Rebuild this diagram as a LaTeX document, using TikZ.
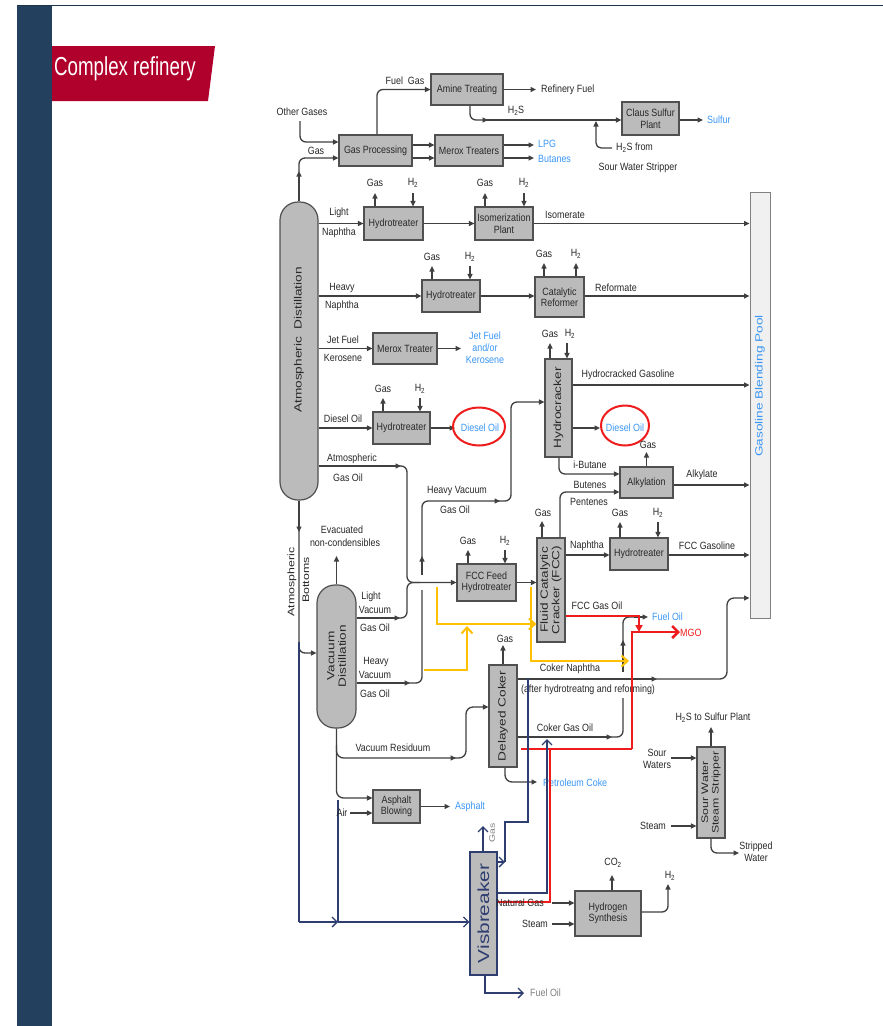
\documentclass[tikz,border=0pt]{standalone}
\usepackage{fontspec}
\setmainfont{Liberation Sans}
\newfontfamily\lblfont{Liberation Sans}[FakeStretch=0.85]
\newfontfamily\rotfont{Liberation Sans}[FakeStretch=1.3]
\newfontfamily\ttlfont{Liberation Sans}[FakeStretch=0.72]
\usetikzlibrary{arrows.meta,calc}
\definecolor{slatebar}{HTML}{23415F}
\definecolor{banner}{HTML}{B0002C}
\definecolor{lncol}{HTML}{404040}
\definecolor{boxfill}{HTML}{BBBBBB}
\definecolor{boxline}{HTML}{505050}
\definecolor{txt}{HTML}{282828}
\definecolor{bluetxt}{HTML}{3A96F5}
\definecolor{navy}{HTML}{2E3E70}
\definecolor{amber}{HTML}{FFC000}
\definecolor{redln}{HTML}{EE1C1C}
\tikzset{
 pipe/.style={draw=lncol, line width=1.3pt},
 flow/.style={pipe, -{Triangle[length=5.5pt,width=5pt]}},
 unit/.style={draw=boxline, fill=boxfill, line width=1.2pt, font=\lblfont\fontsize{10.5}{11.5}\selectfont, text=txt, align=center, inner sep=1pt},
 lb/.style={font=\lblfont\fontsize{10.5}{12}\selectfont, text=txt, inner sep=0pt, align=center},
 blb/.style={lb, text=bluetxt},
 rlb/.style={font=\rotfont\fontsize{10.5}{11.5}\selectfont, text=txt, inner sep=0pt, align=center},
 nv/.style={draw=navy, line width=1.3pt},
 nvflow/.style={nv, -{Straight Barb[length=5pt,width=10pt]}},
 yl/.style={draw=amber, line width=2pt},
 ylflow/.style={yl, -{Straight Barb[length=6pt,width=11pt]}},
 rd/.style={draw=redln, line width=2.5pt},
 col/.style={draw=boxline, fill=boxfill, line width=1.2pt, rounded corners=18pt, inner sep=0pt},
}
\begin{document}
\begin{tikzpicture}[x=1pt,y=-1pt]
\useasboundingbox (0,0) rectangle (883,1026);
\fill[white] (0,0) rectangle (883,1026);
\fill[slatebar] (17,5) rectangle (52,1026);
\draw[slatebar!80!black, line width=1pt] (17,5.5) -- (883,5.5);
\fill[banner] (52,46) -- (215,46) -- (208,101) -- (52,101) -- cycle;
\node[anchor=west, text=white, font=\ttlfont\fontsize{26}{28}\selectfont, inner sep=0pt] (title) at (54,69) {Complex refinery};

% ---------- columns ----------
\node[col, minimum width=38pt, minimum height=298pt] (atm) at (299,351) {};
\node[rlb, rotate=90] (atml) at (299,340) {Atmospheric\ \ Distillation};
\node[col, minimum width=39pt, minimum height=143pt] (vac) at (336.5,656.5) {};
\node[rlb, rotate=90] (vacl) at (336.5,656) {Vacuum\\Distillation};

% ---------- units ----------
\node[unit, minimum width=73pt, minimum height=31pt] (gp) at (375.5,150.5) {Gas Processing};
\node[unit, minimum width=72pt, minimum height=31pt] (amine) at (467,89.5) {Amine Treating};
\node[unit, minimum width=68pt, minimum height=31pt] (merox) at (469,150.5) {Merox Treaters};
\node[unit, minimum width=57pt, minimum height=33pt] (claus) at (650.5,118.5) {Claus Sulfur\\Plant};
\node[unit, minimum width=59pt, minimum height=33pt] (ht1) at (393.5,223.5) {Hydrotreater};
\node[unit, minimum width=58pt, minimum height=33pt] (iso) at (504,223.5) {Isomerization\\Plant};
\node[unit, minimum width=58pt, minimum height=32pt] (ht2) at (451,296) {Hydrotreater};
\node[unit, minimum width=49pt, minimum height=40pt] (cr) at (559.5,297) {Catalytic\\Reformer};
\node[unit, minimum width=64pt, minimum height=31pt] (mt) at (405,348.5) {Merox Treater};
\node[unit, minimum width=57pt, minimum height=32pt] (ht3) at (401.5,428) {Hydrotreater};
\node[unit, minimum width=27pt, minimum height=98pt] (hc) at (558.5,408) {};
\node[unit, minimum width=53pt, minimum height=31pt] (alk) at (646.5,482.5) {Alkylation};
\node[unit, minimum width=28pt, minimum height=104pt] (fcc) at (551,590) {};
\node[unit, minimum width=58pt, minimum height=32pt] (ht4) at (639,554) {Hydrotreater};
\node[unit, minimum width=59pt, minimum height=37pt] (ffh) at (486.5,582.5) {FCC Feed\\Hydrotreater};
\node[unit, minimum width=28pt, minimum height=102pt] (coker) at (503,716) {};
\node[unit, minimum width=47pt, minimum height=33pt] (ab) at (396.5,806.5) {Asphalt\\Blowing};
\node[unit, draw=navy, minimum width=27pt, minimum height=123pt] (vis) at (483.5,913.5) {};
\node[unit, minimum width=66pt, minimum height=45pt] (hs) at (608,913.5) {Hydrogen\\Synthesis};
\node[unit, minimum width=28pt, minimum height=91pt] (sws) at (711,792.5) {};
\node[draw=gray, fill=gray!12, line width=1pt, minimum width=20pt, minimum height=426pt, inner sep=0pt] (gbp) at (760,405) {};

\node[rlb, rotate=90] (hcl) at (hc) {Hydrocracker};
\node[rlb, rotate=90] (fccl) at (fcc) {Fluid Catalytic\\Cracker (FCC)};
\node[rlb, rotate=90] (cokl) at (coker) {Delayed Coker};
\node[rlb, rotate=90, font=\rotfont\fontsize{16}{18}\selectfont, text=navy] (visl) at (vis) {Visbreaker};
\node[rlb, rotate=90, font=\rotfont\fontsize{9.5}{10.5}\selectfont] (swsl) at (sws) {Sour Water\\Steam Stripper};
\node[rlb, rotate=90, text=bluetxt] (gbpl) at (760,386) {Gasoline Blending Pool};

% ---------- top section ----------
\draw[flow] (atm.north) -- (299,171);
\draw[flow, rounded corners=6pt] (299,172) |- (gp.west |- 0,158);
\node[lb] (tgas0) at (316,151) {Gas};
\node[lb] (toth) at (302,112) {Other Gases};
\draw[flow, rounded corners=6pt] (300,121) |- (gp.west |- 0,142);
\draw[flow, rounded corners=6pt] (gp.north -| 377,0) |- (amine.west);
\node[lb] (tfg) at (405,81) {Fuel\ \ Gas};
\draw[flow] (amine.east) -- (536,89.5);
\node[lb, anchor=west] (trf) at (541,90) {Refinery Fuel};
\draw[flow, rounded corners=6pt] (amine.south -| 470,0) |- (488,120);
\draw[flow] (486,120) -- (claus.west |- 0,120);
\node[lb] (th2s) at (516,111) {H\textsubscript{2}S};
\draw[flow] (claus.east |- 0,120) -- (703,120);
\node[blb, anchor=west] (tsul) at (707,120) {Sulfur};
\draw[flow, rounded corners=5pt] (612,148) -| (596,121);
\node[lb, anchor=west] (th2sf) at (616,148) {H\textsubscript{2}S from};
\node[lb] (tsws) at (638,168) {Sour Water Stripper};
\draw[flow] (gp.east |- 0,145) -- (merox.west |- 0,145);
\draw[flow] (gp.east |- 0,158) -- (merox.west |- 0,158);
\draw[flow] (merox.east |- 0,145) -- (534,145);
\draw[flow] (merox.east |- 0,158) -- (534,158);
\node[blb, anchor=west] (tlpg) at (538,144) {LPG};
\node[blb, anchor=west] (tbut) at (538,159) {Butanes};

% ---------- light naphtha ----------
\draw[flow] (atm.east |- ht1.west) -- (ht1.west);
\node[lb] (tln1) at (339,213) {Light};
\node[lb] (tln2) at (339,233) {Naphtha};
\draw[flow] (ht1.north -| 375,0) -- (375,193); \node[lb] (g1) at (375,183) {Gas};
\draw[flow] (413,193) -- (ht1.north -| 413,0); \node[lb] (h1) at (413,183) {H\textsubscript{2}};
\draw[flow] (ht1.east) -- (iso.west);
\draw[flow] (iso.north -| 485,0) -- (485,193); \node[lb] (g2) at (485,183) {Gas};
\draw[flow] (524,193) -- (iso.north -| 524,0); \node[lb] (h2) at (524,183) {H\textsubscript{2}};
\draw[flow] (iso.east) -- (gbp.west |- iso.east);
\node[lb] (tisom) at (565,215) {Isomerate};

% ---------- heavy naphtha ----------
\draw[flow] (atm.east |- ht2.west) -- (ht2.west);
\node[lb] (thn1) at (342,288) {Heavy};
\node[lb] (thn2) at (342,306) {Naphtha};
\draw[flow] (ht2.north -| 432,0) -- (432,266); \node[lb] (g3) at (432,257) {Gas};
\draw[flow] (470,266) -- (ht2.north -| 470,0); \node[lb] (h3) at (470,257) {H\textsubscript{2}};
\draw[flow] (ht2.east) -- (cr.west |- ht2.east);
\draw[flow] (cr.north -| 544,0) -- (544,263); \node[lb] (g4) at (544,254) {Gas};
\draw[flow] (cr.north -| 576,0) -- (576,263); \node[lb] (h4) at (576,254) {H\textsubscript{2}};
\draw[flow] (cr.east |- ht2.east) -- (gbp.west |- ht2.east);
\node[lb] (tref) at (616,288) {Reformate};

% ---------- jet fuel ----------
\draw[flow] (atm.east |- mt.west) -- (mt.west);
\node[lb] (tjf1) at (343,340) {Jet Fuel};
\node[lb] (tjf2) at (343,358) {Kerosene};
\draw[flow] (mt.east) -- (461,348.5);
\node[blb] (tjf3) at (485,348) {Jet Fuel\\and/or\\Kerosene};

% ---------- diesel ----------
\draw[flow] (atm.east |- ht3.west) -- (ht3.west);
\node[lb] (tdo) at (343,419) {Diesel Oil};
\draw[flow] (ht3.north -| 383,0) -- (383,398); \node[lb] (g5) at (383,389) {Gas};
\draw[flow] (420,398) -- (ht3.north -| 420,0); \node[lb] (h5) at (420,389) {H\textsubscript{2}};
\draw[flow] (ht3.east) -- (455,428);
\node[blb] (tdo2) at (480,428) {Diesel Oil};
\draw[redln, line width=2pt] (479,426.5) ellipse [x radius=26pt, y radius=19pt];

% ---------- atmospheric gas oil / vacuum gas oils ----------
\draw[flow] (atm.east |- 0,466) -- (401,466);
\draw[flow, rounded corners=6pt] (399,466) -| (407,582.5) -- (ffh.west);
\node[lb] (tago1) at (352,459) {Atmospheric};
\node[lb] (tago2) at (348,478) {Gas Oil};
\draw[flow] (vac.east |- 0,618) -- (400,618);
\draw[pipe, rounded corners=6pt] (398,618) -| (407,582.5) -- (420,582.5);
\node[lb] (tlv1) at (371,597) {Light};
\node[lb] (tlv2) at (375,610) {Vacuum};
\node[lb] (tlv3) at (375,628) {Gas Oil};
\draw[flow] (vac.east |- 0,683) -- (410,683);
\draw[pipe, rounded corners=6pt] (408,683) -| (422,590);
\draw[flow] (422,575) -- (422,556);
\draw[flow, rounded corners=6pt] (422,558) |- (500,501);
\draw[flow, rounded corners=6pt] (498,501) -| (511,402) -- (hc.west |- 0,402);
\node[lb] (thv1) at (457,491) {Heavy Vacuum};
\node[lb] (thv2) at (455,510) {Gas Oil};
\node[lb] (thvv1) at (376,662) {Heavy};
\node[lb] (thvv2) at (375,675) {Vacuum};
\node[lb] (thvv3) at (375,694) {Gas Oil};
\draw[flow] (vac.north) -- (336.5,556);
\node[lb] (tev1) at (342,530) {Evacuated};
\node[lb] (tev2) at (345,543) {non-condensibles};

% ---------- atmospheric bottoms ----------
\draw[flow] (atm.south) -- (299,532);
\draw[flow, rounded corners=6pt] (299,530) |- (vac.west |- 0,653);
\node[rlb, rotate=90, font=\rotfont\fontsize{9.5}{10.5}\selectfont] (tab1) at (292,582) {Atmospheric};
\node[rlb, rotate=90, font=\rotfont\fontsize{9.5}{10.5}\selectfont] (tab2) at (306,580) {Bottoms};
\draw[nv] (299,642) -- (299,922);
\draw[nvflow] (299,922) -- (338,922);
\draw[nv] (338,800) -- (338,922);
\draw[nvflow] (338,922) -- (vis.west |- 0,922);

% ---------- vacuum residuum ----------
\draw[flow, rounded corners=7pt] (vac.south) |- (ab.west |- 0,798);
\draw[flow, rounded corners=7pt] (336.5,745) |- (456,758);
\draw[flow, rounded corners=7pt] (454,758) -| (466,707) -- (coker.west |- 0,707);
\node[lb] (tvr) at (393,748) {Vacuum Residuum};
\node[lb] (tair) at (342,813) {Air};
\draw[flow] (350,813) -- (ab.west |- 0,813);
\draw[flow] (ab.east) -- (450,806.5);
\node[blb, anchor=west] (tasp) at (455,806.5) {Asphalt};

% ---------- coker ----------
\draw[flow] (coker.north) -- (503,645);
\node[lb] (g6) at (505,639) {Gas};
\draw[flow] (coker.east |- 0,679) -- (657,679);
\draw[flow, rounded corners=7pt] (655,679) -| (727,598) -- (gbp.west |- 0,598);
\node[lb] (tcn) at (570,669) {Coker Naphtha};
\node[lb] (tcn2) at (588,690) {(after hydrotreatng and reforming)};
\draw[flow] (coker.east |- 0,737) -- (612,737);
\draw[pipe, rounded corners=6pt] (610,737) -| (623,698);
\draw[flow] (623,672) -- (623,640);
\draw[pipe, rounded corners=6pt] (623,642) |- (634,617);
\node[lb] (tcgo) at (565,728) {Coker Gas Oil};
\draw[flow, rounded corners=7pt] (coker.south -| 505,0) |- (537,782);
\node[blb, anchor=west] (tpc) at (543,783) {Petroleum Coke};

% ---------- FCC gas oil, MGO ----------
\draw[flow] (634,617) -- (648,617);
\node[blb, anchor=west] (tfo) at (652,617) {Fuel Oil};
\draw[rd] (fcc.east |- 0,616) -- (640,616);
\draw[rd, -{Triangle[length=7pt,width=7pt]}] (639,616) -- (639,632);
\draw[rd] (521,749) -- (632,749);
\draw[rd, -{Straight Barb[length=6pt,width=12pt]}] (632,749) -- (632,632) -- (680,632);
\draw[rd] (vis.east |- 0,902) -| (550,749);
\node[lb, text=redln, anchor=west] (tmgo) at (680,633) {MGO};
\node[lb] (tfcgo) at (597,606) {FCC Gas Oil};

% ---------- yellow ----------
\draw[ylflow] (437,587) -- (437,624) -- (fcc.west |- 0,624);
\draw[ylflow] (424,670) -- (467,670) -- (467,626);
\draw[ylflow] (531,587) -- (531,661) -- (629,661);

% ---------- hydrocracker ----------
\draw[flow] (hc.north -| 550,0) -- (550,343); \node[lb] (g7) at (550,334) {Gas};
\draw[flow] (567,343) -- (hc.north -| 567,0); \node[lb] (h7) at (570,334) {H\textsubscript{2}};
\draw[flow] (hc.east |- 0,385) -- (gbp.west |- 0,385);
\node[lb] (thcg) at (628,375) {Hydrocracked Gasoline};
\draw[flow] (hc.east |- 0,428) -- (600,428);
\node[blb] (tdo3) at (625,428) {Diesel Oil};
\draw[redln, line width=2pt] (625,425.5) ellipse [x radius=24pt, y radius=20pt];
\draw[flow, rounded corners=6pt] (hc.south -| 559,0) |- (alk.west |- 0,474);
\node[lb] (tib) at (590,465) {i-Butane};
\draw[flow] (alk.north) -- (646.5,452);
\node[lb] (g8) at (648,445) {Gas};
\draw[flow, rounded corners=6pt] (fcc.north -| 560,0) |- (alk.west |- 0,492);
\node[lb] (tbt) at (590,485) {Butenes};
\node[lb] (tpt) at (589,502) {Pentenes};
\draw[flow] (alk.east |- 0,485) -- (gbp.west |- 0,485);
\node[lb] (talk) at (702,475) {Alkylate};

% ---------- FCC ----------
\draw[flow] (fcc.north -| 542,0) -- (542,521); \node[lb] (g9) at (543,513) {Gas};
\draw[flow] (fcc.east |- 0,555) -- (ht4.west |- 0,555);
\node[lb] (tnap) at (587,546) {Naphtha};
\draw[flow] (ht4.north -| 620,0) -- (620,522); \node[lb] (g10) at (620,513) {Gas};
\draw[flow] (658,522) -- (ht4.north -| 658,0); \node[lb] (h10) at (658,513) {H\textsubscript{2}};
\draw[flow] (ht4.east |- 0,555) -- (gbp.west |- 0,555);
\node[lb] (tfccg) at (707,546) {FCC Gasoline};
\draw[flow] (ffh.north -| 468,0) -- (468,550); \node[lb] (g11) at (468,541) {Gas};
\draw[flow] (505,550) -- (ffh.north -| 505,0); \node[lb] (h11) at (505,541) {H\textsubscript{2}};
\draw[flow] (ffh.east) -- (fcc.west |- ffh.east);

% ---------- visbreaker ----------
\draw[nvflow] (vis.north -| 483,0) -- (483,826);
\node[rlb, rotate=90, text=gray, font=\rotfont\fontsize{8}{9}\selectfont] (tvg) at (492,833) {Gas};
\draw[nvflow] (vis.east |- 0,862) -- (505,862);
\draw[nv] (505,862) |- (528,822) -- (528,678);
\draw[nvflow] (vis.east |- 0,893) -| (547,739);
\draw[nvflow] (vis.south -| 485,0) |- (524,993);
\node[lb, text=gray, anchor=west] (tfo2) at (530,993) {Fuel Oil};

% ---------- hydrogen synthesis ----------
\node[lb] (tng) at (520,903) {Natural Gas};
\draw[flow] (552,903) -- (hs.west |- 0,903);
\node[lb] (tst) at (535,924) {Steam};
\draw[flow] (552,924) -- (hs.west |- 0,924);
\draw[flow] (hs.north -| 612,0) -- (612,875);
\node[lb] (tco2) at (613,863) {CO\textsubscript{2}};
\draw[flow, rounded corners=6pt] (hs.east |- 0,912) -| (668,884);
\node[lb] (th2o) at (670,876) {H\textsubscript{2}};

% ---------- sour water stripper ----------
\draw[flow] (sws.north) -- (711,727);
\node[lb] (th2sp) at (713,718) {H\textsubscript{2}S to Sulfur Plant};
\node[lb] (tsw) at (657,759) {Sour\\Waters};
\draw[flow] (671,758) -- (sws.west |- 0,758);
\node[lb] (tstm) at (653,826) {Steam};
\draw[flow] (671,826) -- (sws.west |- 0,826);
\draw[flow, rounded corners=6pt] (sws.south) |- (739,853);
\node[lb] (tstw) at (756,852) {Stripped\\Water};
\end{tikzpicture}
\end{document}
